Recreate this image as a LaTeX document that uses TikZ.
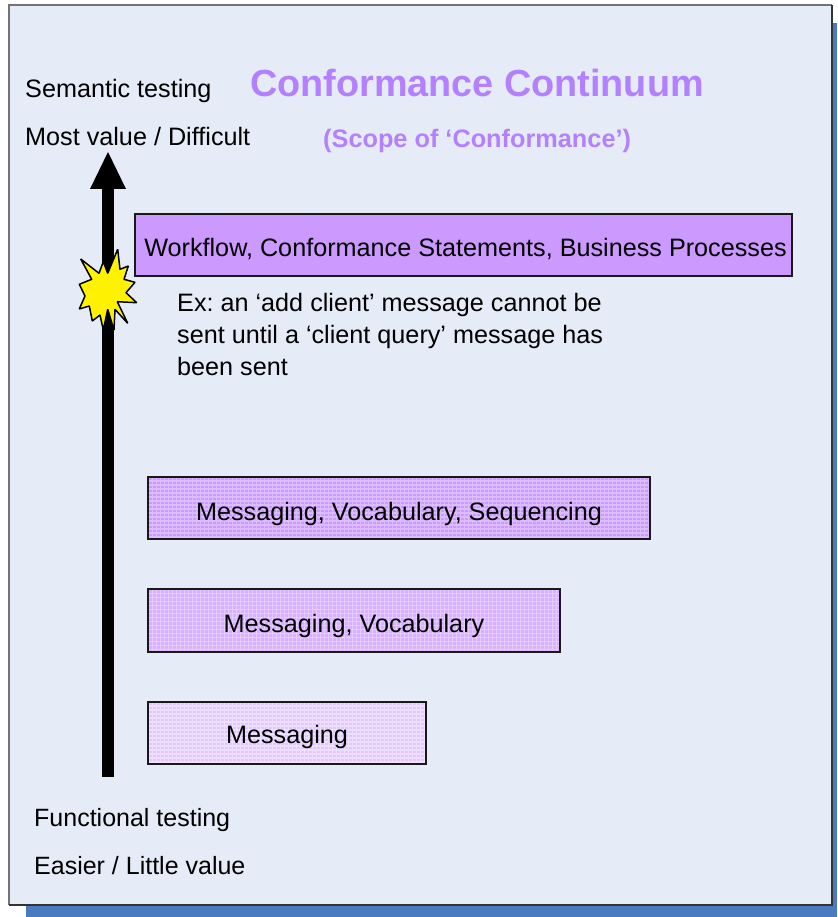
\documentclass[tikz,border=0pt]{standalone}
\usepackage{fontspec}
\setmainfont{Liberation Sans}
\definecolor{panel}{HTML}{E6ECF7}
\definecolor{shadowblue}{HTML}{4A7ABF}
\definecolor{toptitle}{HTML}{B380FF}
\definecolor{topbox}{HTML}{CC99FF}
\definecolor{seqbox}{HTML}{CC99FF}
\definecolor{seqgrid}{HTML}{DDBBFF}
\definecolor{vocbox}{HTML}{D8B0FF}
\definecolor{vocgrid}{HTML}{E6CCFF}
\definecolor{msgbox}{HTML}{E2C8FF}
\definecolor{msggrid}{HTML}{EEDFFF}
\tikzset{
  lbl/.style={font=\fontsize{25.2}{30}\selectfont, text=black, inner sep=0pt, anchor=base west},
  lowlbl/.style={font=\fontsize{25}{30}\selectfont, text=black, inner sep=0pt, anchor=base west},
  barfill/.style={inner sep=0pt, minimum height=62pt},
  barborder/.style={draw=black!90, line width=2pt},
  barlabel/.style={font=\fontsize{25.2}{30}\selectfont, text=black, inner sep=0pt},
  titletxt/.style={text=toptitle, inner sep=0pt, anchor=base west},
  fineweave/.style={line width=1.6pt},
}
\begin{document}
\frenchspacing
\begin{tikzpicture}[x=1pt,y=-1pt]
\useasboundingbox (0,0) rectangle (837,917);
\fill[white] (0,0) rectangle (837,917);
\fill[shadowblue] (26,23) rectangle (837,917);
\fill[panel] (9,5) rectangle (832,905);
\draw[black!55,line width=1.2pt] (9,905) -- (9,5) -- (832,5);
\draw[black!80,line width=1.2pt] (832,5) -- (832,905) -- (9,905);
\node[titletxt,font=\bfseries\fontsize{37.8}{44}\selectfont] (title) at (250,97) {Conformance Continuum};
\node[titletxt,font=\bfseries\fontsize{25.3}{30}\selectfont] (sub) at (323,148) {(Scope of ‘Conformance’)};
\node[lbl] (sem) at (25,98) {Semantic testing};
\node[lbl] (most) at (25,146) {Most value / Difficult};
\node[lowlbl] (func) at (34,826) {Functional testing};
\node[lowlbl] (easy) at (34,874) {Easier / Little value};
\coordinate (abot) at (108,777);
\coordinate (atop) at (108,189);
\fill[black] (101.7,777) rectangle (114.3,189);
\fill[black] (90,189) -- (108,152) -- (126,189) -- cycle;
\node[barfill,fill=topbox,minimum width=657pt] (wf) at (463.5,245) {};
\draw[barborder] (wf.south west) rectangle (wf.north east);
\node[barlabel] at (465.5,248.5) {Workflow, Conformance Statements, Business Processes};
\foreach \n/\cx/\cy/\w/\bc/\gc/\dy/\t in {
  seq/399/508/501/seqbox/seqgrid/5.5/{Messaging, Vocabulary, Sequencing},
  voc/354/620.5/411/vocbox/vocgrid/5.5/{Messaging, Vocabulary},
  msg/287/733/277/msgbox/msggrid/4/{Messaging}}{
  \node[barfill,fill=\bc,minimum width=\w pt] (\n) at (\cx,\cy) {};
  \begin{scope}
    \clip (\n.south west) rectangle (\n.north east);
    \foreach \k in {0,4,...,504} \draw[fineweave,\gc] ([xshift=\k pt]\n.north west) -- ([xshift=\k pt]\n.south west);
    \foreach \k in {0,4,...,64} \draw[fineweave,\gc] ([yshift=-\k pt]\n.north west) -- ([yshift=-\k pt]\n.north east);
  \end{scope}
  \draw[barborder] (\n.south west) rectangle (\n.north east);
  \node[barlabel] at ([yshift=-\dy pt]\n.center) {\t};
}
\node[lbl] (ex1) at (177,311) {Ex: an ‘add client’ message cannot be};
\node[lbl] (ex2) at (177,343) {sent until a ‘client query’ message has};
\node[lbl] (ex3) at (177,375) {been sent};
\draw[fill=yellow,draw=black,line width=1.5pt,line join=bevel] (117.7,249.3) -- (120,269.3) -- (128.3,266) -- (124,279.3) -- (135,282.3) -- (126,292.7) -- (136.7,302.7) -- (117.3,301.7) -- (127.7,323.3) -- (115,309.3) -- (114,330) -- (107.7,309.3) -- (103.3,330) -- (100,315) -- (92.3,321) -- (89.3,306) -- (79.3,309) -- (85,296) -- (79.3,284.3) -- (91.7,279.3) -- (80.7,259) -- (99,273.3) -- (103.3,261.7) -- (107.7,273.3) -- cycle;
\end{tikzpicture}
\end{document}
